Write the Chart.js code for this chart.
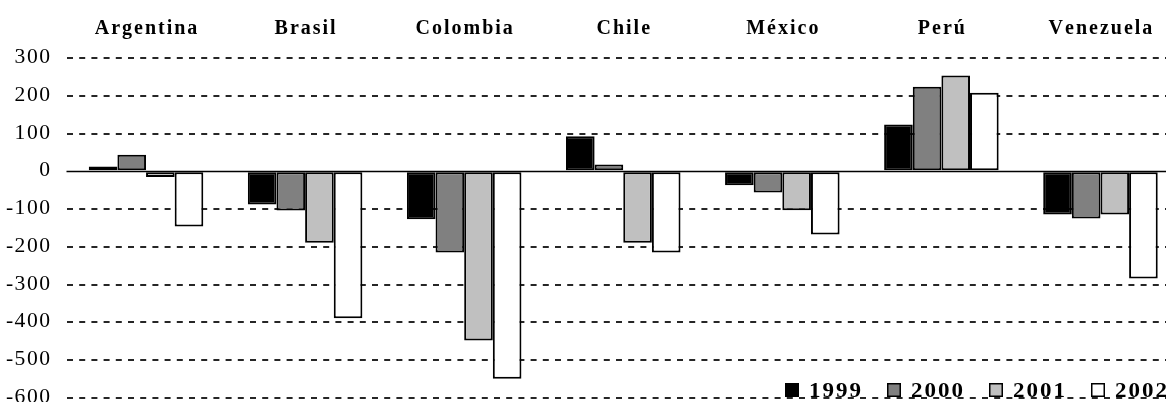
<!DOCTYPE html>
<html>
<head>
<meta charset="utf-8">
<title>Balanza por país, 1999-2002</title>
<script src="https://cdn.jsdelivr.net/npm/chart.js@4.4.1/dist/chart.umd.min.js"></script>
<style>
  html, body { margin: 0; padding: 0; background: #ffffff; overflow: hidden; }
  #wrap { width: 1166px; height: 402px; overflow: hidden; position: relative; }
  canvas { display: block; }
</style>
</head>
<body>
<div id="wrap"><canvas id="chart" width="1184" height="402"></canvas></div>
<script>
// Categories and yearly series
const categories = ['Argentina', 'Brasil', 'Colombia', 'Chile', 'México', 'Perú', 'Venezuela'];
const years = ['1999', '2000', '2001', '2002'];
const values1999 = [13, -88, -127, 93, -37, 124, -114];
const values2000 = [44, -104, -215, 18, -56, 224, -125];
const values2001 = [-15, -189, -448, -189, -103, 254, -114];
const values2002 = [-146, -389, -549, -215, -167, 208, -284];
const yTicks = [300, 200, 100, 0, -100, -200, -300, -400, -500, -600];

const fillColors = ['#000000', '#808080', '#c0c0c0', '#ffffff'];
const serif = "'Liberation Serif', 'Times New Roman', serif";

// Text with extra tracking and optional horizontal widening
function spacedWidth(ctx, text, spacing, stretch) {
  const chars = Array.from(text);
  let w = 0;
  chars.forEach(ch => { w += ctx.measureText(ch).width; });
  return w * stretch + spacing * (chars.length - 1);
}
function drawSpaced(ctx, text, x, y, align, spacing, stretch) {
  const total = spacedWidth(ctx, text, spacing, stretch);
  let cx = align === 'center' ? x - total / 2 : align === 'right' ? x - total : x;
  ctx.textAlign = 'left';
  ctx.textBaseline = 'alphabetic';
  Array.from(text).forEach(ch => {
    ctx.save();
    ctx.translate(cx, y);
    ctx.scale(stretch, 1);
    ctx.fillText(ch, 0, 0);
    ctx.restore();
    cx += ctx.measureText(ch).width * stretch + spacing;
  });
  return total;
}

// Solid zero baseline, drawn beneath the bars
const zeroLinePlugin = {
  id: 'zeroLine',
  beforeDatasetsDraw(chart) {
    const { ctx, chartArea, scales } = chart;
    const y = Math.round(scales.y.getPixelForValue(0)) + 0.5;
    ctx.save();
    ctx.strokeStyle = '#000000';
    ctx.lineWidth = 1.5;
    ctx.beginPath();
    ctx.moveTo(chartArea.left, y);
    ctx.lineTo(chartArea.right, y);
    ctx.stroke();
    ctx.restore();
  }
};

// Country names above the plot and value labels on the left, placed by the scales
const axisTextPlugin = {
  id: 'axisText',
  afterDraw(chart) {
    const { ctx, scales } = chart;
    ctx.save();
    ctx.fillStyle = '#000000';
    ctx.font = 'bold 20px ' + serif;
    chart.data.labels.forEach((name, i) => {
      drawSpaced(ctx, name, scales.x.getPixelForValue(i), 34, 'center', 2, 1);
    });
    ctx.font = '20px ' + serif;
    scales.y.ticks.forEach(t => {
      const y = scales.y.getPixelForValue(t.value);
      drawSpaced(ctx, String(t.value), 50, y + 5, 'right', 1.5, 1.08);
    });
    ctx.restore();
  }
};

// Year key in the lower right corner of the plot
const yearKeyPlugin = {
  id: 'yearKey',
  afterDraw(chart) {
    const { ctx, chartArea } = chart;
    ctx.save();
    ctx.font = 'bold 20px ' + serif;
    let x = chartArea.right - 395;
    const boxTop = 383;
    const baseline = 397;
    chart.data.datasets.forEach((ds) => {
      ctx.fillStyle = ds.backgroundColor;
      ctx.fillRect(x, boxTop, 14, 14);
      ctx.strokeStyle = '#000000';
      ctx.lineWidth = 1.5;
      ctx.strokeRect(x + 0.75, boxTop + 0.75, 12.5, 12.5);
      ctx.fillStyle = '#000000';
      const tx = x + 24;
      const w = drawSpaced(ctx, ds.label, tx, baseline, 'left', 2, 1.15);
      x = tx + w + 26;
    });
    ctx.restore();
  }
};

const seriesValues = [values1999, values2000, values2001, values2002];

new Chart(document.getElementById('chart'), {
  type: 'bar',
  data: {
    labels: categories,
    datasets: years.map((yr, i) => ({
      label: yr,
      data: seriesValues[i],
      backgroundColor: fillColors[i],
      borderColor: '#000000',
      borderWidth: 2,
      borderSkipped: false,
      barPercentage: 1.0,
      categoryPercentage: 0.72
    }))
  },
  options: {
    responsive: false,
    animation: false,
    devicePixelRatio: 1,
    layout: { padding: { top: 0, left: 0, right: 4, bottom: 4 } },
    plugins: { legend: { display: false }, tooltip: { enabled: false } },
    scales: {
      x: {
        position: 'top',
        grid: { display: false, drawTicks: false },
        border: { display: false },
        ticks: { display: false },
        afterFit(scale) { scale.height = 58; }
      },
      y: {
        min: -600,
        max: 300,
        afterBuildTicks(scale) { scale.ticks = yTicks.map(v => ({ value: v })); },
        afterFit(scale) {
          scale.width = 66.5;
          scale.paddingTop = 0;
          scale.paddingBottom = 0;
        },
        grid: {
          drawTicks: false,
          lineWidth: 2,
          color: (c) => (c.tick && c.tick.value === 0) ? 'rgba(0,0,0,0)' : '#262626'
        },
        border: { display: false, dash: [6, 6.2] },
        ticks: { display: false }
      }
    }
  },
  plugins: [zeroLinePlugin, axisTextPlugin, yearKeyPlugin]
});
</script>
</body>
</html>
